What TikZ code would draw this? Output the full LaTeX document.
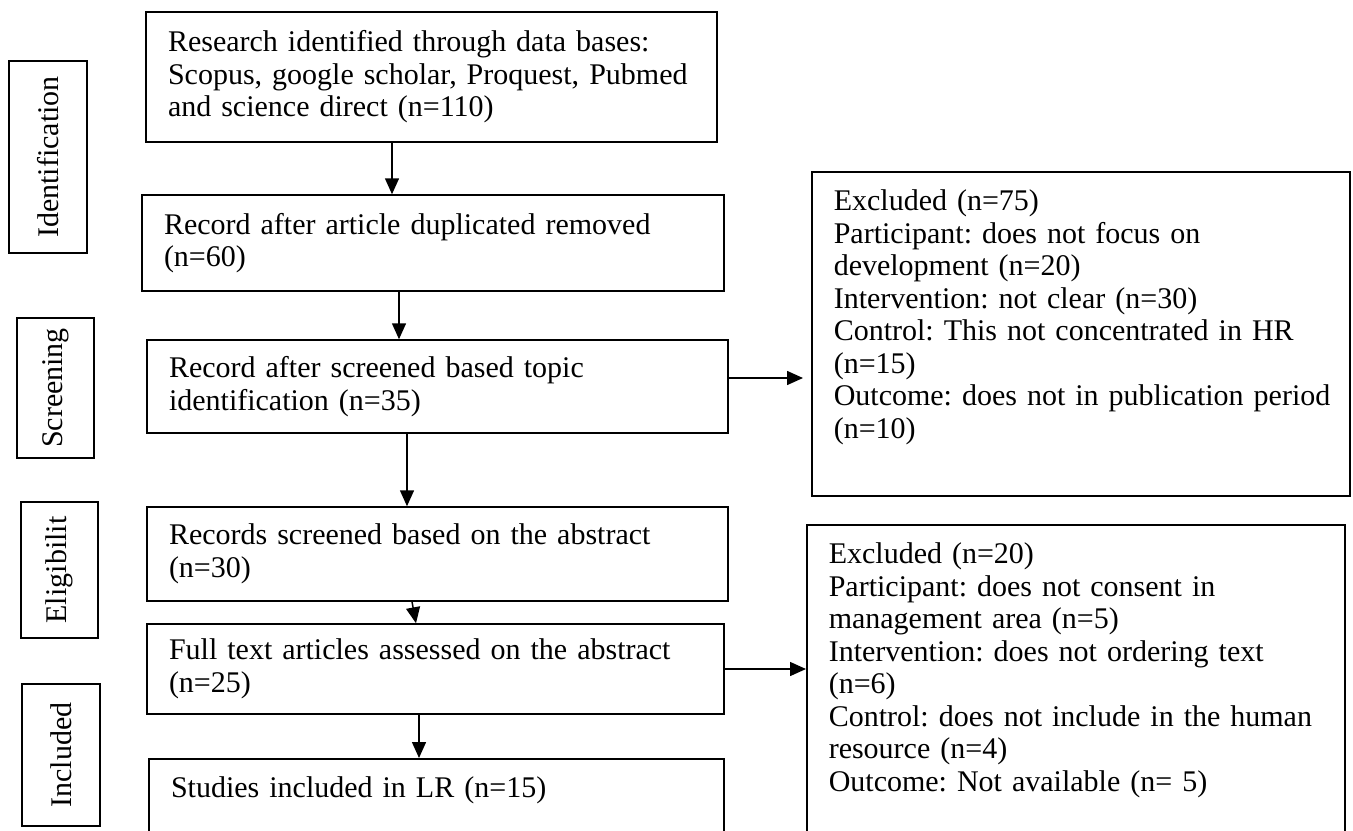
\documentclass[tikz,border=0pt]{standalone}
\usepackage{fontspec}
\setmainfont{Liberation Serif}
\usetikzlibrary{arrows.meta}
\frenchspacing
\hyphenpenalty=10000

\begin{document}
\begin{tikzpicture}[x=0.5pt, y=-0.5pt,
    every node/.style={font=\fontsize{15}{16.25}\selectfont},
    box/.style={draw, line width=0.75pt, align=left, inner xsep=11pt, inner ysep=0pt},
    stage/.style={draw, line width=0.75pt, rotate=90, inner sep=0pt},
    arr/.style={-{Triangle[length=8pt,width=7pt]}, line width=0.75pt}]
        \useasboundingbox (0,0) rectangle (1353,830);
        \clip (0,0) rectangle (1353,830);
        % stages
        \node[stage, minimum width=96pt, minimum height=39pt] (sIdent) at (48,157) {Identification};
        \node[stage, minimum width=70pt, minimum height=38.5pt] (sScreen) at (55.5,388) {Screening};
        \node[stage, minimum width=68pt, minimum height=38.5pt] (sElig) at (59.5,570) {Eligibilit};
        \node[stage, minimum width=71pt, minimum height=39pt] (sIncl) at (61,755) {Included};
        % main column
        \node[box, text width=263.5pt, minimum height=65pt] (b1) at (431.5,77)
            {Research identified through data bases:\\ Scopus, google scholar, Proquest, Pubmed\\ and science direct (n=110)};
        \node[box, text width=269pt, minimum height=48pt] (b2) at (433,243)
            {Record after article duplicated removed\\ (n=60)};
        \node[box, text width=268.5pt, minimum height=46.5pt] (b3) at (437.5,386.5)
            {Record after screened based topic\\ identification (n=35)};
        \node[box, text width=268.5pt, minimum height=47pt] (b4) at (437.5,554)
            {Records screened based on the abstract\\ (n=30)};
        \node[box, text width=266.5pt, minimum height=45pt] (b5) at (435.5,669)
            {Full text articles assessed on the abstract\\ (n=25)};
        \node[box, text width=265.5pt, text height=19.5pt, text depth=40pt, anchor=north] (b6) at (436.5,758)
            {Studies included in LR (n=15)};
        % excluded
        \node[box, text width=247pt, text height=19.5pt, text depth=142.5pt, anchor=north west] (ex1) at (811,171)
            {Excluded (n=75)\\ Participant: does not focus on\\ development (n=20)\\ Intervention: not clear (n=30)\\
             Control: This not concentrated in HR\\ (n=15)\\ \mbox{Outcome: does not in publication period}\\ (n=10)};
        \node[box, text width=247pt, text height=19.5pt, text depth=140pt, anchor=north west] (ex2) at (806,524)
            {Excluded (n=20)\\ Participant: does not consent in\\ management area (n=5)\\ Intervention: does not ordering text\\
             (n=6)\\ Control: does not include in the human\\ resource (n=4)\\ Outcome: Not available (n= 5)};
        % arrows
        \draw[arr] (b1.south -| 392,0) -- (b2.north -| 392,0);
        \draw[arr] (b2.south -| 399,0) -- (b3.north -| 399,0);
        \draw[arr] (b3.south -| 407,0) -- (b4.north -| 407,0);
        \draw[arr] (b4.south -| 412,0) -- (b5.north -| 416,0);
        \draw[arr] (b5.south -| 419,0) -- (b6.north -| 419,0);
        \draw[arr, shorten >=4pt] (b3.east |- 0,378) -- (ex1.west |- 0,378);
        \draw[arr] (b5.east) -- (b5.east -| ex2.west);
\end{tikzpicture}
\end{document}
